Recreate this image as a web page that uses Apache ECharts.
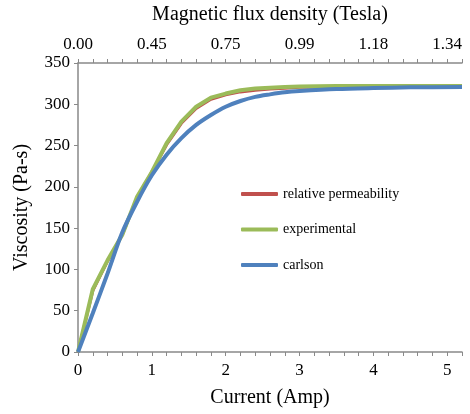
<!DOCTYPE html>
<html>
<head>
<meta charset="utf-8">
<script src="https://cdn.jsdelivr.net/npm/echarts@6/dist/echarts.min.js"></script>
<style>
  html, body { margin: 0; padding: 0; background: #fff; }
  #chart { width: 470px; height: 414px; }
</style>
</head>
<body>
<div id="chart"></div>
<script>
// current (Amp) sample points
const current = [0, 0.2, 0.4, 0.6, 0.8, 1.0, 1.2, 1.4, 1.6, 1.8, 2.0, 2.2, 2.4, 2.6, 2.8, 3.0, 3.5, 4.0, 4.5, 5.2];
// viscosity (Pa-s) per model
const relPermeability = [0, 74, 110, 142, 187, 218, 251, 277, 295, 306, 311.5, 315, 317, 318.5, 319.5, 320.5, 321, 321.5, 321.5, 321.5];
const experimental = [0, 76, 111, 142, 188, 218, 253, 279, 297, 308, 313, 317, 319, 320, 321, 321.5, 322, 322, 322, 322];
const carlson = [0, 47, 95, 145, 182, 214, 239, 259, 275, 287, 297, 304, 309, 312, 314.5, 316, 318.5, 319.7, 320.5, 321];
// top axis: flux density at each whole amp
const fluxLabels = ['0.00', '0.45', '0.75', '0.99', '1.18', '1.34'];

const FONT = 'Liberation Serif';
const axisGray = '#898989';

function pairs(ys) {
  return current.map((x, i) => [x, ys[i]]);
}

const chart = echarts.init(document.getElementById('chart'));

const baseX = {
  type: 'value',
  min: 0,
  max: 5.2,
  interval: 0.2,
  nameLocation: 'middle',
  nameTextStyle: { fontFamily: FONT, fontSize: 20, color: '#000' },
  axisLine: { show: true, onZero: false, lineStyle: { color: axisGray, width: 1.5 } },
  axisTick: { show: true, length: 4, lineStyle: { color: axisGray, width: 1 } },
  splitLine: { show: false },
  axisLabel: { fontFamily: FONT, fontSize: 17, color: '#000', margin: 10, showMaxLabel: true }
};

chart.setOption({
  animation: false,
  grid: { left: 78, right: 8, top: 63, bottom: 62 },
  legend: {
    orient: 'vertical',
    left: 236,
    top: 182,
    icon: 'roundRect',
    itemWidth: 37,
    itemHeight: 4,
    itemGap: 21.5,
    textStyle: { fontFamily: FONT, fontSize: 14, color: '#000', lineHeight: 14 },
    data: ['relative permeability', 'experimental', 'carlson']
  },
  xAxis: [
    Object.assign({}, baseX, {
      position: 'bottom',
      name: 'Current (Amp)',
      nameGap: 36,
      axisLabel: Object.assign({}, baseX.axisLabel, {
        formatter: v => (Math.abs(v - Math.round(v)) < 1e-6 ? String(Math.round(v)) : '')
      })
    }),
    Object.assign({}, baseX, {
      position: 'top',
      name: 'Magnetic flux density (Tesla)',
      nameGap: 38,
      axisLabel: Object.assign({}, baseX.axisLabel, {
        formatter: v => {
          const r = Math.round(v);
          return Math.abs(v - r) < 1e-6 && fluxLabels[r] !== undefined ? fluxLabels[r] : '';
        }
      })
    })
  ],
  yAxis: {
    type: 'value',
    min: 0,
    max: 350,
    interval: 50,
    name: 'Viscosity (Pa-s)',
    nameLocation: 'middle',
    nameGap: 46,
    nameTextStyle: { fontFamily: FONT, fontSize: 20, color: '#000' },
    axisLine: { show: true, lineStyle: { color: axisGray, width: 1.5 } },
    axisTick: { show: true, length: 4, lineStyle: { color: axisGray, width: 1 } },
    splitLine: { show: false },
    axisLabel: { fontFamily: FONT, fontSize: 17, color: '#000', margin: 8 }
  },
  series: [
    {
      name: 'relative permeability',
      type: 'line',
      data: pairs(relPermeability),
      symbol: 'none',
      lineStyle: { color: '#C0504D', width: 3 },
      itemStyle: { color: '#C0504D' }
    },
    {
      name: 'experimental',
      type: 'line',
      data: pairs(experimental),
      symbol: 'none',
      lineStyle: { color: '#9BBB59', width: 4 },
      itemStyle: { color: '#9BBB59' }
    },
    {
      name: 'carlson',
      type: 'line',
      data: pairs(carlson),
      smooth: 0.3,
      symbol: 'none',
      lineStyle: { color: '#4F81BD', width: 4 },
      itemStyle: { color: '#4F81BD' }
    }
  ]
});
</script>
</body>
</html>
